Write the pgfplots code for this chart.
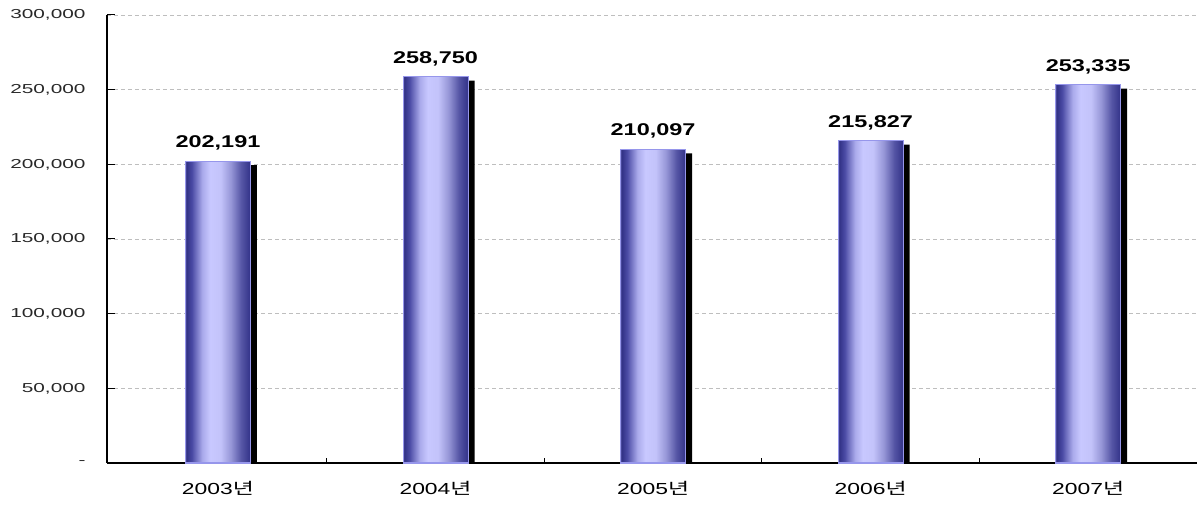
\documentclass[border=0pt]{standalone}
\usepackage{fontspec}
\usepackage{pgfplots}
\pgfplotsset{compat=1.18}
\setmainfont{Liberation Sans}
\newfontfamily\tickfont{Liberation Sans}[FakeStretch=1.6]
\newfontfamily\xfont{Liberation Sans}[FakeStretch=1.43]
\newfontfamily\krfont{Noto Sans CJK KR}[FakeStretch=1.43]
\newfontfamily\labfont{Liberation Sans}[FakeStretch=1.38]

\definecolor{sa}{RGB}{80,80,160}
\definecolor{sb}{RGB}{50,50,135}
\definecolor{sc}{RGB}{75,75,165}
\definecolor{sd}{RGB}{170,170,235}
\definecolor{se}{RGB}{200,200,255}
\definecolor{sf}{RGB}{195,195,250}
\definecolor{sg}{RGB}{150,150,215}
\definecolor{sh}{RGB}{85,85,165}
\definecolor{si}{RGB}{55,55,140}
\definecolor{sj}{RGB}{60,60,145}
\definecolor{baredge}{RGB}{150,150,235}
\definecolor{gridc}{RGB}{190,190,190}
\definecolor{tickc}{RGB}{40,40,40}
\pgfdeclarehorizontalshading{barshade}{100bp}{color(0bp)=(sa); color(25bp)=(sa); color(26bp)=(sb); color(30bp)=(sc); color(38bp)=(sd); color(44bp)=(se); color(52bp)=(sf); color(60bp)=(sg); color(68bp)=(sh); color(74bp)=(si); color(75bp)=(sj); color(100bp)=(sj)}

\pgfplotsset{
  mybar/.style={ybar, bar width=65pt, bar shift=0pt, shading=barshade, draw=baredge, line width=1pt,
    point meta=explicit symbolic, nodes near coords,
    nodes near coords style={font=\labfont\bfseries\fontsize{17}{17}\selectfont, text=black, anchor=south, yshift=7pt}},
}

\begin{document}
\begin{tikzpicture}
\begin{axis}[
  at={(0pt,0pt)}, anchor=south west,
  scale only axis, width=1090pt, height=448pt,
  xmin=-0.51, xmax=4.5, ymin=0, ymax=300000,
  axis x line*=bottom, axis y line*=left,
  axis line style={black, line width=1.1pt, -},
  tick align=inside,
  ytick={0,50000,100000,150000,200000,250000,300000},
  yticklabels={-,{50,000},{100,000},{150,000},{200,000},{250,000},{300,000}},
  scaled y ticks=false,
  yticklabel style={font=\tickfont\fontsize{13}{13}\selectfont, text=tickc, xshift=-18pt},
  major tick length=8pt, minor tick length=5pt,
  every tick/.style={black, line width=1pt},
  xtick={0,1,2,3,4},
  xticklabels={2003{\krfont 년},2004{\krfont 년},2005{\krfont 년},2006{\krfont 년},2007{\krfont 년}},
  xticklabel style={font=\xfont\fontsize{16}{16}\selectfont, text=black, yshift=-15pt},
  major x tick style={draw=none},
  minor xtick={0.5,1.5,2.5,3.5},
  ymajorgrids,
  grid style={gridc, dash pattern=on 4pt off 3pt, line width=0.8pt},
  clip=false,
]
% drop shadows
\addplot[ybar, bar width=65pt, bar shift=6.5pt, fill=black, draw=none] coordinates {(0,199491) (1,256050) (2,207397) (3,213127) (4,250635)};
% bars
\addplot[mybar] coordinates {(0,202191) [202,191]};
\addplot[mybar] coordinates {(1,258750) [258,750]};
\addplot[mybar] coordinates {(2,210097) [210,097]};
\addplot[mybar] coordinates {(3,215827) [215,827]};
\addplot[mybar] coordinates {(4,253335) [253,335]};
\end{axis}
\pgfresetboundingbox
\path[use as bounding box] (-107pt,-43pt) rectangle (1090pt,463pt);
\end{tikzpicture}
\end{document}
